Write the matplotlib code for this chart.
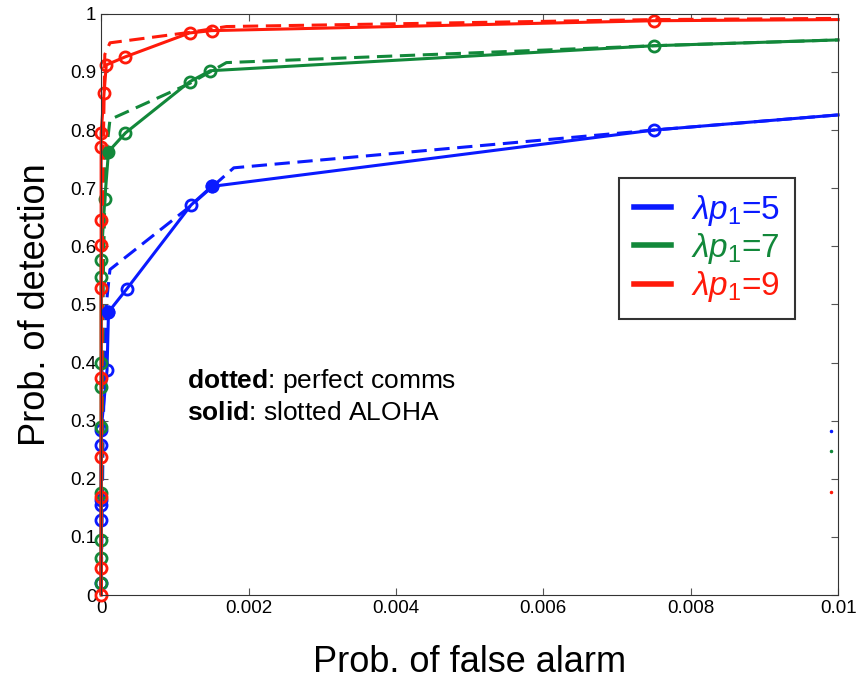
import numpy as np
import matplotlib
matplotlib.use('Agg')
import matplotlib.pyplot as plt

plt.rcParams['font.family'] = ['Liberation Sans', 'DejaVu Sans']
plt.rcParams['mathtext.fontset'] = 'custom'
plt.rcParams['mathtext.it'] = 'Liberation Sans:italic'
plt.rcParams['mathtext.rm'] = 'Liberation Sans'
plt.rcParams['mathtext.bf'] = 'Liberation Sans:bold'

# slotted ALOHA (solid, with markers)
blueX = [0, 0, 0, 0, 0, 0, 0.00008, 0.0001, 0.00035, 0.00122, 0.0015, 0.0075, 0.01]
blueY = [0.02, 0.13, 0.155, 0.163, 0.258, 0.284, 0.387, 0.487, 0.527, 0.671, 0.703, 0.80, 0.826]
greenX = [0, 0, 0, 0, 0, 0, 0, 0, 0, 0.00005, 0.0001, 0.00033, 0.0012, 0.00148, 0.0075, 0.01]
greenY = [0.02, 0.064, 0.095, 0.176, 0.289, 0.358, 0.40, 0.547, 0.577, 0.681, 0.763, 0.795, 0.883, 0.902, 0.945, 0.955]
redX = [0, 0, 0, 0, 0, 0, 0, 0, 0, 0, 0.00004, 0.00007, 0.00033, 0.0012, 0.0015, 0.0075, 0.01]
redY = [0.0, 0.046, 0.169, 0.238, 0.373, 0.528, 0.602, 0.645, 0.771, 0.795, 0.864, 0.912, 0.926, 0.967, 0.971, 0.988, 0.99]

# perfect comms (dashed)
blueDX = [0, 0.00003, 0.00007, 0.00012, 0.0012, 0.0018, 0.0075, 0.01]
blueDY = [0.0, 0.30, 0.50, 0.56, 0.668, 0.735, 0.80, 0.826]
greenDX = [0, 0.00003, 0.00006, 0.00012, 0.0012, 0.0017, 0.0075, 0.01]
greenDY = [0.0, 0.55, 0.75, 0.818, 0.88, 0.916, 0.945, 0.955]
redDX = [0, 0.00002, 0.00005, 0.00012, 0.0012, 0.0017, 0.0075, 0.01]
redDY = [0.0, 0.70, 0.93, 0.95, 0.968, 0.978, 0.99, 0.992]

# points that look filled (overlapping circles)
filledBlue = ([0.0001, 0.0015], [0.487, 0.703])
filledGreen = ([0.0001], [0.763])

# stray dots at the right edge
strayX = [0.0099, 0.0099, 0.0099]
strayY = [0.283, 0.248, 0.177]

labels = [r'$\lambda p_{\mathrm{1}}$=5', r'$\lambda p_{\mathrm{1}}$=7', r'$\lambda p_{\mathrm{1}}$=9']
colors = ['#0a1aff', '#12883a', '#ff1a0a']

fig = plt.figure(figsize=(8.57, 6.88), dpi=100)
ax = fig.add_axes([0.118, 0.135, 0.86, 0.845])

solid = [(blueX, blueY), (greenX, greenY), (redX, redY)]
dashed = [(blueDX, blueDY), (greenDX, greenDY), (redDX, redDY)]

for (sx, sy), (dx, dy), c, lab in zip(solid, dashed, colors, labels):
    ax.plot(dx, dy, color=c, linestyle=(0, (5, 2.5)), linewidth=2.2, clip_on=False)
    ax.plot(sx, sy, color=c, linewidth=2.2, label=lab, clip_on=False,
            marker='o', markersize=8, markerfacecolor='none', markeredgewidth=2,
            markevery=list(range(len(sx) - 1)))

ax.plot(*filledBlue, 'o', color=colors[0], markersize=9)
ax.plot(*filledGreen, 'o', color=colors[1], markersize=8)
for x, y, c in zip(strayX, strayY, colors):
    ax.plot(x, y, '.', color=c, markersize=3)

ax.set_xlim(0, 0.01)
ax.set_ylim(0, 1)
ax.set_xticks([0, 0.002, 0.004, 0.006, 0.008, 0.01])
ax.set_xticklabels(['0', '0.002', '0.004', '0.006', '0.008', '0.01'])
ax.set_yticks(np.arange(0, 1.01, 0.1))
ax.set_yticklabels(['0', '0.1', '0.2', '0.3', '0.4', '0.5', '0.6', '0.7', '0.8', '0.9', '1'])
ax.tick_params(direction='in', top=True, right=True, labelsize=13.5, length=5, colors='#555555',
               labelcolor='black')
for s in ax.spines.values():
    s.set_color('#333333')

ax.set_xlabel('Prob. of false alarm', fontsize=26, labelpad=20)
ax.set_ylabel('Prob. of detection', fontsize=26, labelpad=12)

leg = ax.legend(loc='upper left', bbox_to_anchor=(0.703, 0.718), fontsize=24,
                labelcolor='linecolor', frameon=True, fancybox=False, edgecolor='black',
                handlelength=1.1, handletextpad=0.6, labelspacing=0.1, borderpad=0.45,
                borderaxespad=0)
leg.get_frame().set_linewidth(1.5)
for line in leg.get_lines():
    line.set_linewidth(4)
    line.set_marker('')

ax.text(0.117, 0.357, r'$\bf{dotted}$: perfect comms', transform=ax.transAxes, fontsize=19)
ax.text(0.117, 0.302, r'$\bf{solid}$: slotted ALOHA', transform=ax.transAxes, fontsize=19)

plt.savefig('out.png', dpi=100)
